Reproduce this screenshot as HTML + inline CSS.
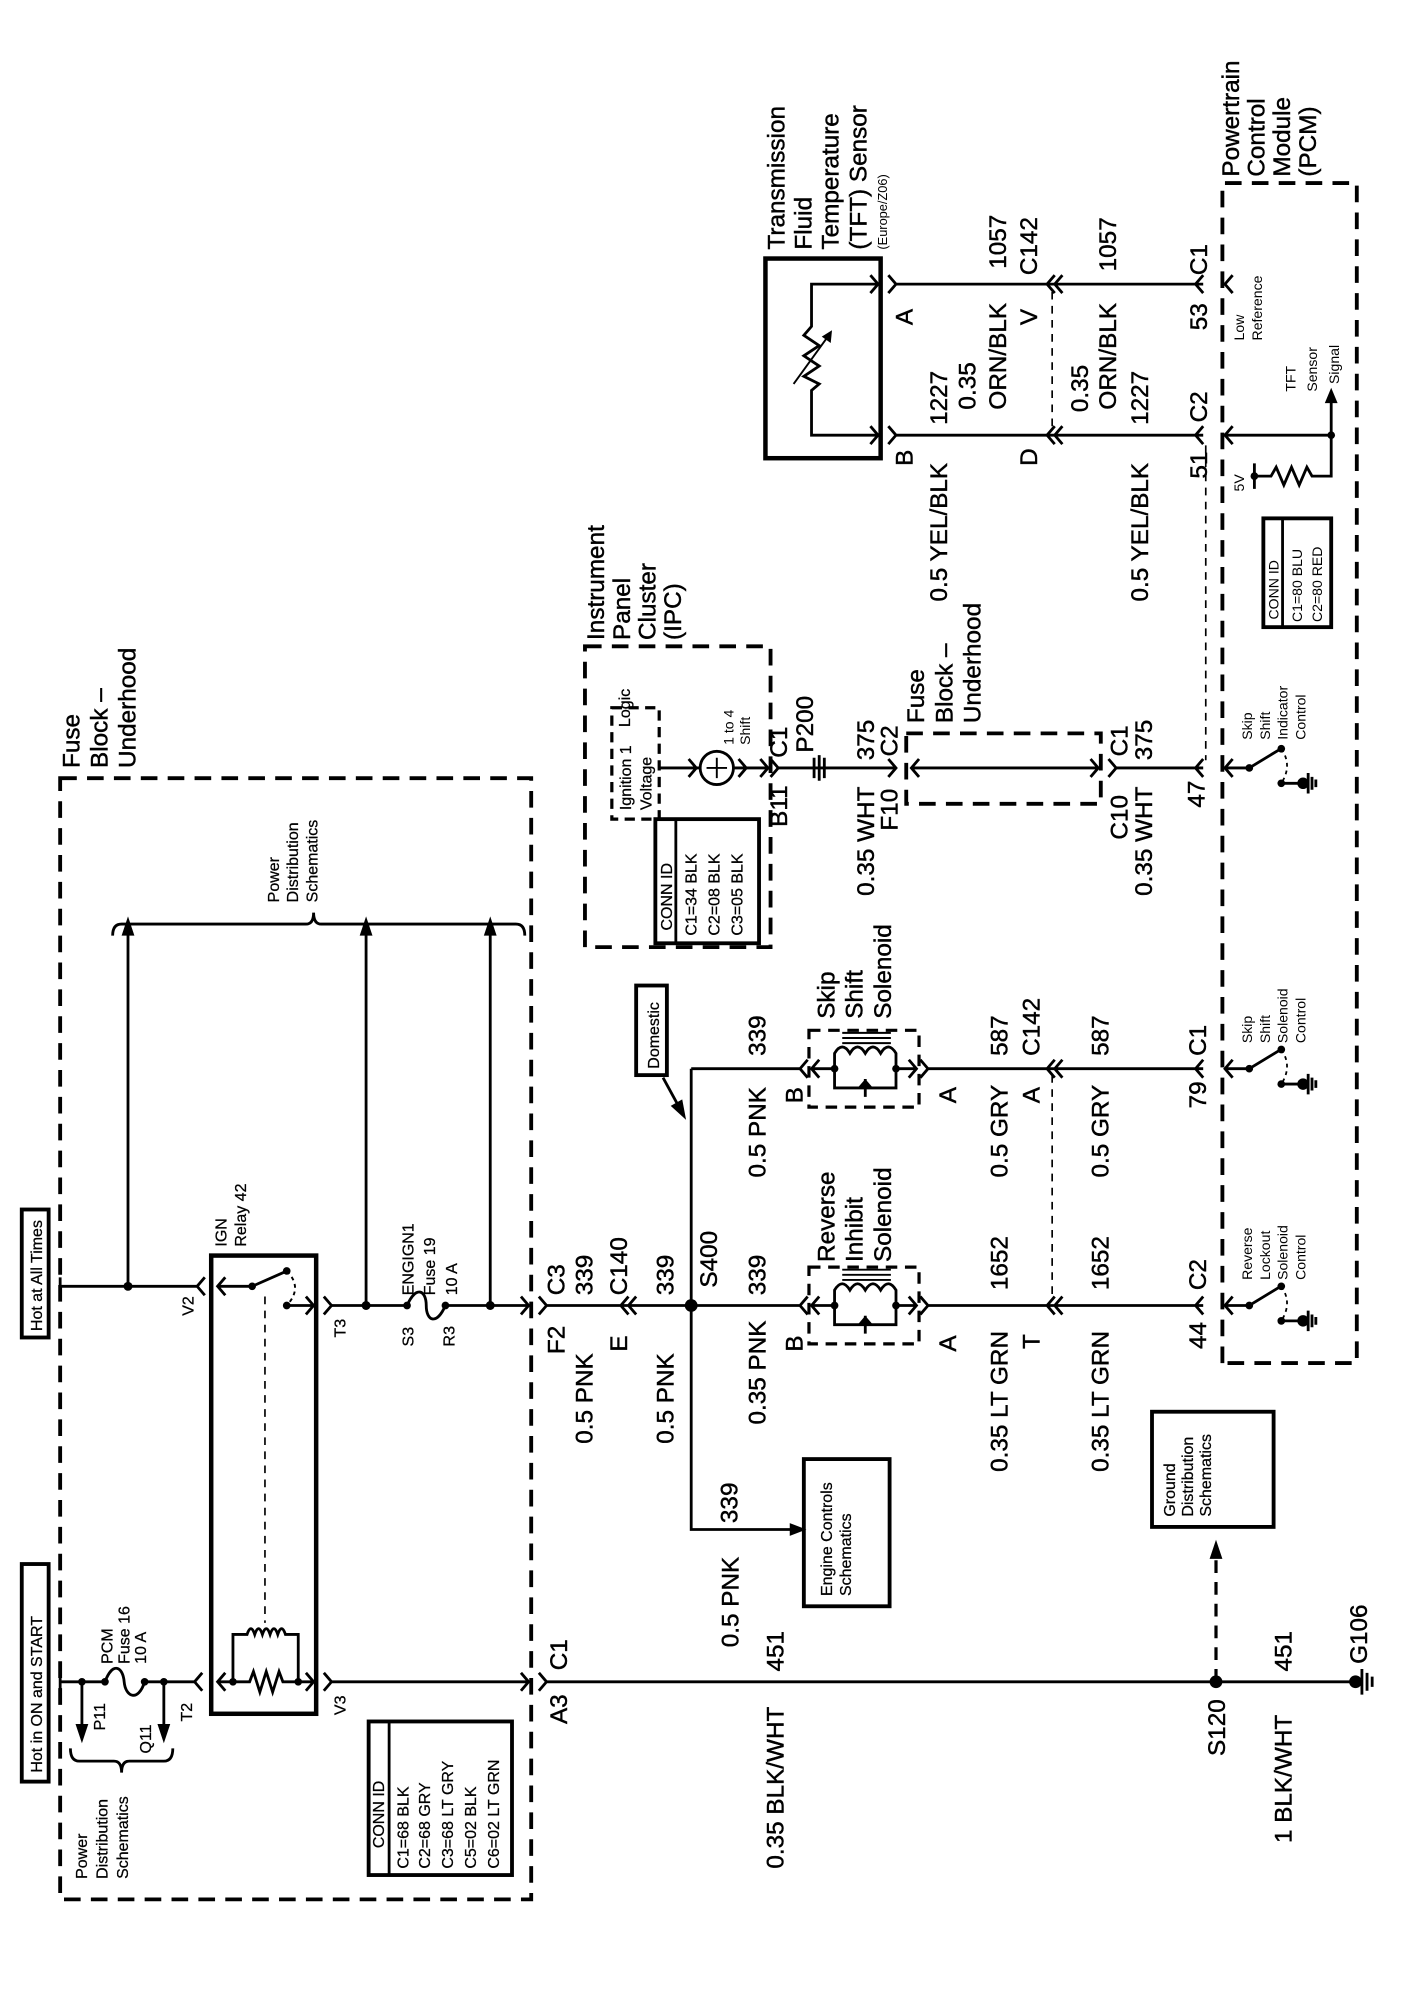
<!DOCTYPE html>
<html><head><meta charset="utf-8"><style>
html,body{margin:0;padding:0;background:#fff}
svg{display:block}
text{font-family:"Liberation Sans",Arial,sans-serif;fill:#000}
.L{font-size:19px;stroke:#000;stroke-width:0.35}.M{font-size:12.5px;stroke:#000;stroke-width:0.2}.S{font-size:11px}.X{font-size:10px}
.w{stroke:#000;stroke-width:2.2;fill:none}
.t{stroke:#000;stroke-width:3.5;fill:none}
.d{stroke:#000;stroke-width:3;fill:none;stroke-dasharray:13 8}
.dt{stroke:#000;stroke-width:1.3;fill:none;stroke-dasharray:6 5}
.k{fill:#000}
</style></head><body>
<svg width="1408" height="2012" viewBox="0 0 1100 1572" preserveAspectRatio="none">
<rect width="1100" height="1572" fill="#fff"/>

<!-- LEFT FUSE BLOCK -->
<rect class="d" x="47" y="608" width="368" height="876"/>
<text class="L" transform="translate(62,600) rotate(-90)">Fuse</text>
<text class="L" transform="translate(84,600) rotate(-90)">Block –</text>
<text class="L" transform="translate(106,600) rotate(-90)">Underhood</text>

<rect class="t" x="17" y="1222" width="21" height="170" style="stroke-width:3"/>
<text class="M" transform="translate(33,1385) rotate(-90)">Hot in ON and START</text>
<rect class="t" x="17" y="945" width="21" height="100" style="stroke-width:3"/>
<text class="M" transform="translate(33,1040) rotate(-90)">Hot at All Times</text>

<path class="w" d="M47,1302 V1326 M47,1314 H82 M113,1314 H152 M82,1314 C88,1298 96,1302 97,1314 S108,1330 113,1314"/>
<circle class="k" cx="64" cy="1314" r="3"/><circle class="k" cx="82" cy="1314" r="3"/>
<circle class="k" cx="113" cy="1314" r="3"/><circle class="k" cx="128" cy="1314" r="3"/>
<path class="w" d="M64,1314 V1350 M128,1314 V1350"/>
<polygon class="k" points="59,1347 69,1347 64,1362"/><polygon class="k" points="123,1347 133,1347 128,1362"/>
<path class="w" d="M158,1307 L152,1314 L158,1321"/>
<text class="M" transform="translate(82,1352) rotate(-90)">P11</text>
<text class="M" transform="translate(118,1370) rotate(-90)">Q11</text>
<text class="M" transform="translate(150,1345) rotate(-90)">T2</text>
<text class="M" transform="translate(88,1300) rotate(-90)">PCM</text>
<text class="M" transform="translate(101,1300) rotate(-90)">Fuse 16</text>
<text class="M" transform="translate(114,1300) rotate(-90)">10 A</text>
<path class="w" d="M55,1366 Q55,1376 62,1376 L89,1376 Q95,1376 95,1385 Q95,1376 101,1376 L128,1376 Q135,1376 135,1366"/>
<text class="M" transform="translate(68,1468) rotate(-90)">Power</text>
<text class="M" transform="translate(84,1468) rotate(-90)">Distribution</text>
<text class="M" transform="translate(100,1468) rotate(-90)">Schematics</text>

<rect class="t" x="165" y="981" width="82" height="358"/>
<text class="M" transform="translate(177,974) rotate(-90)">IGN</text>
<text class="M" transform="translate(192,974) rotate(-90)">Relay 42</text>
<path class="w" d="M47,998 V1012 M47,1005 H154 M160,998 L154,1005 L160,1012"/>
<circle class="k" cx="100" cy="1005" r="3.5"/>
<path class="w" d="M100,1005 V728"/><polygon class="k" points="95,731 105,731 100,716"/>
<path class="w" d="M176,998 L170,1005 L176,1012 M170,1005 H197 L222,994"/>
<circle class="k" cx="197" cy="1005" r="3"/><circle class="k" cx="224" cy="993" r="3"/>
<path d="M224,993 Q237,1006 224,1020" stroke="#000" stroke-width="1.5" fill="none" stroke-dasharray="3 3"/>
<circle class="k" cx="224" cy="1020" r="3"/>
<path class="w" d="M224,1020 H245 M239,1013 L245,1020 L239,1027 M253,1013 L259,1020 L253,1027"/>
<path class="dt" d="M207,1013 V1268"/>
<text class="M" transform="translate(151,1028) rotate(-90)">V2</text>
<text class="M" transform="translate(270,1045) rotate(-90)">T3</text>
<text class="M" transform="translate(270,1340) rotate(-90)">V3</text>
<path class="w" d="M259,1020 H318 M348,1020 H413 M318,1020 C325,1004 333,1008 333,1020 S341,1036 348,1020 M407,1013 L413,1020 L407,1027"/>
<circle class="k" cx="286" cy="1020" r="3.5"/><circle class="k" cx="318" cy="1020" r="3"/>
<circle class="k" cx="348" cy="1020" r="3"/><circle class="k" cx="383" cy="1020" r="3.5"/>
<path class="w" d="M286,1020 V728 M383,1020 V728"/>
<polygon class="k" points="281,731 291,731 286,716"/><polygon class="k" points="378,731 388,731 383,716"/>
<text class="M" transform="translate(323,1012) rotate(-90)">ENGIGN1</text>
<text class="M" transform="translate(340,1012) rotate(-90)">Fuse 19</text>
<text class="M" transform="translate(357,1012) rotate(-90)">10 A</text>
<text class="M" transform="translate(323,1052) rotate(-90)">S3</text>
<text class="M" transform="translate(355,1052) rotate(-90)">R3</text>
<path class="w" d="M88,731 Q88,722 95,722 L239,722 Q245,722 245,713 Q245,722 251,722 L403,722 Q410,722 410,731"/>
<text class="M" transform="translate(218,705) rotate(-90)">Power</text>
<text class="M" transform="translate(233,705) rotate(-90)">Distribution</text>
<text class="M" transform="translate(248,705) rotate(-90)">Schematics</text>
<path class="w" d="M170,1314 H195 L198,1306 L203,1322 L208,1306 L213,1322 L218,1306 L221,1314 H245 M176,1307 L170,1314 L176,1321 M239,1307 L245,1314 L239,1321"/>
<path class="w" d="M182,1314 V1277 H193 Q196,1268 199,1277 Q202,1268 205,1277 Q208,1268 211,1277 Q214,1268 217,1277 Q220,1268 223,1277 H233 V1314"/>
<circle class="k" cx="182" cy="1314" r="3"/><circle class="k" cx="233" cy="1314" r="3"/>
<path class="w" d="M253,1307 L259,1314 L253,1321 M259,1314 H413 M407,1307 L413,1314 L407,1321"/>
<rect class="t" x="288" y="1345" width="112" height="120" style="stroke-width:3"/>
<path class="w" d="M304,1345 V1465"/>
<text class="M" transform="translate(300,1444) rotate(-90)">CONN ID</text>
<text class="M" transform="translate(319,1460) rotate(-90)">C1=68 BLK</text>
<text class="M" transform="translate(336,1460) rotate(-90)">C2=68 GRY</text>
<text class="M" transform="translate(354,1460) rotate(-90)">C3=68 LT GRY</text>
<text class="M" transform="translate(372,1460) rotate(-90)">C5=02 BLK</text>
<text class="M" transform="translate(390,1460) rotate(-90)">C6=02 LT GRN</text>

<path class="w" d="M421,1307 L427,1314 L421,1321 M427,1314 H1059"/>
<text class="L" transform="translate(443,1347) rotate(-90)">A3</text>
<text class="L" transform="translate(443,1305) rotate(-90)">C1</text>
<text class="L" transform="translate(612,1460) rotate(-90)">0.35 BLK/WHT</text>
<text class="L" transform="translate(612,1306) rotate(-90)">451</text>
<circle class="k" cx="950" cy="1314" r="5"/>
<path d="M950,1314 V1218" stroke="#000" stroke-width="2.5" stroke-dasharray="10 7" fill="none"/>
<polygon class="k" points="945,1218 955,1218 950,1203"/>
<text class="L" transform="translate(957,1372) rotate(-90)">S120</text>
<text class="L" transform="translate(1009,1306) rotate(-90)">451</text>
<text class="L" transform="translate(1009,1440) rotate(-90)">1 BLK/WHT</text>
<circle class="k" cx="1059" cy="1314" r="5"/>
<path class="w" d="M1064,1304 V1324 M1068,1307 V1321 M1072,1310 V1318"/>
<text class="L" transform="translate(1068,1300) rotate(-90)">G106</text>
<rect class="t" x="900" y="1103" width="95" height="90" style="stroke-width:3"/>
<text class="M" transform="translate(918,1185) rotate(-90)">Ground</text>
<text class="M" transform="translate(932,1185) rotate(-90)">Distribution</text>
<text class="M" transform="translate(946,1185) rotate(-90)">Schematics</text>

<path class="w" d="M421,1013 L427,1020 L421,1027 M427,1020 H625 M491,1013 L485,1020 L491,1027 M497,1013 L491,1020 L497,1027 M631,1013 L625,1020 L631,1027"/>
<circle class="k" cx="540" cy="1020" r="5"/>
<path class="w" d="M540,835 V1195 H622 M540,835 H625 M631,828 L625,835 L631,842"/>
<polygon class="k" points="617,1190 617,1200 630,1195"/>
<text class="L" transform="translate(441,1058) rotate(-90)">F2</text>
<text class="L" transform="translate(441,1012) rotate(-90)">C3</text>
<text class="L" transform="translate(463,1128) rotate(-90)">0.5 PNK</text>
<text class="L" transform="translate(463,1012) rotate(-90)">339</text>
<text class="L" transform="translate(490,1056) rotate(-90)">E</text>
<text class="L" transform="translate(490,1012) rotate(-90)">C140</text>
<text class="L" transform="translate(526,1128) rotate(-90)">0.5 PNK</text>
<text class="L" transform="translate(526,1012) rotate(-90)">339</text>
<text class="L" transform="translate(560,1006) rotate(-90)">S400</text>
<text class="L" transform="translate(598,1113) rotate(-90)">0.35 PNK</text>
<text class="L" transform="translate(598,1012) rotate(-90)">339</text>
<text class="L" transform="translate(627,1056) rotate(-90)">B</text>
<text class="L" transform="translate(652,986) rotate(-90)">Reverse</text>
<text class="L" transform="translate(674,986) rotate(-90)">Inhibit</text>
<text class="L" transform="translate(696,986) rotate(-90)">Solenoid</text>
<text class="L" transform="translate(747,1056) rotate(-90)">A</text>
<text class="L" transform="translate(787,1150) rotate(-90)">0.35 LT GRN</text>
<text class="L" transform="translate(787,1008) rotate(-90)">1652</text>
<text class="L" transform="translate(812,1054) rotate(-90)">T</text>
<text class="L" transform="translate(866,1150) rotate(-90)">0.35 LT GRN</text>
<text class="L" transform="translate(866,1008) rotate(-90)">1652</text>
<text class="L" transform="translate(942,1008) rotate(-90)">C2</text>
<text class="L" transform="translate(942,1054) rotate(-90)">44</text>
<text class="L" transform="translate(576,1190) rotate(-90)">339</text>
<text class="L" transform="translate(577,1287) rotate(-90)">0.5 PNK</text>
<rect class="t" x="628" y="1140" width="67" height="115" style="stroke-width:3"/>
<text class="M" transform="translate(650,1247) rotate(-90)">Engine Controls</text>
<text class="M" transform="translate(665,1247) rotate(-90)">Schematics</text>
<rect class="t" x="497" y="770" width="24" height="70" style="stroke-width:3"/>
<text class="M" transform="translate(515,835) rotate(-90)">Domestic</text>
<path class="w" d="M518,842 L530,864"/><polygon class="k" points="524,864 533,859 536,875"/>

<g>
<rect class="d" x="632" y="990" width="86" height="60" style="stroke-width:2.5;stroke-dasharray:9 6"/>
<path class="w" d="M640,1013 L634,1020 L640,1027 M634,1020 H652 M700,1020 H716 M710,1013 L716,1020 L710,1027"/>
<path class="w" d="M652,1020 V1008 Q658,998 664,1008 Q670,998 676,1008 Q682,998 688,1008 Q694,998 700,1008 V1020"/>
<path class="w" d="M658,1000 H696 M658,996 H696 M658,992 H696" style="stroke-width:1.5"/>
<path class="w" d="M652,1020 V1035 H700 V1020 M676,1028 V1042"/>
<polygon class="k" points="670,1035 682,1035 676,1028"/>
<circle class="k" cx="652" cy="1020" r="3"/><circle class="k" cx="700" cy="1020" r="3"/>
</g>
<g transform="translate(0,-185)">
<rect class="d" x="632" y="990" width="86" height="60" style="stroke-width:2.5;stroke-dasharray:9 6"/>
<path class="w" d="M640,1013 L634,1020 L640,1027 M634,1020 H652 M700,1020 H716 M710,1013 L716,1020 L710,1027"/>
<path class="w" d="M652,1020 V1008 Q658,998 664,1008 Q670,998 676,1008 Q682,998 688,1008 Q694,998 700,1008 V1020"/>
<path class="w" d="M658,1000 H696 M658,996 H696 M658,992 H696" style="stroke-width:1.5"/>
<path class="w" d="M652,1020 V1035 H700 V1020 M676,1028 V1042"/>
<polygon class="k" points="670,1035 682,1035 676,1028"/>
<circle class="k" cx="652" cy="1020" r="3"/><circle class="k" cx="700" cy="1020" r="3"/>
</g>
<path class="w" d="M719,1013 L725,1020 L719,1027 M725,1020 H940 M824,1013 L818,1020 L824,1027 M830,1013 L824,1020 L830,1027 M940,1013 L934,1020 L940,1027"/>
<path class="w" d="M719,828 L725,835 L719,842 M725,835 H940 M824,828 L818,835 L824,842 M830,828 L824,835 L830,842 M940,828 L934,835 L940,842"/>
<path class="dt" d="M822,840 V1016"/>

<text class="L" transform="translate(598,825) rotate(-90)">339</text>
<text class="L" transform="translate(627,862) rotate(-90)">B</text>
<text class="L" transform="translate(598,920) rotate(-90)">0.5 PNK</text>
<text class="L" transform="translate(652,796) rotate(-90)">Skip</text>
<text class="L" transform="translate(674,796) rotate(-90)">Shift</text>
<text class="L" transform="translate(696,796) rotate(-90)">Solenoid</text>
<text class="L" transform="translate(747,862) rotate(-90)">A</text>
<text class="L" transform="translate(787,825) rotate(-90)">587</text>
<text class="L" transform="translate(787,920) rotate(-90)">0.5 GRY</text>
<text class="L" transform="translate(812,825) rotate(-90)">C142</text>
<text class="L" transform="translate(812,862) rotate(-90)">A</text>
<text class="L" transform="translate(866,825) rotate(-90)">587</text>
<text class="L" transform="translate(866,920) rotate(-90)">0.5 GRY</text>
<text class="L" transform="translate(942,825) rotate(-90)">C1</text>
<text class="L" transform="translate(942,866) rotate(-90)">79</text>

<rect class="d" x="457" y="505" width="145" height="235"/>
<text class="L" transform="translate(472,500) rotate(-90)">Instrument</text>
<text class="L" transform="translate(492,500) rotate(-90)">Panel</text>
<text class="L" transform="translate(512,500) rotate(-90)">Cluster</text>
<text class="L" transform="translate(532,500) rotate(-90)">(IPC)</text>
<rect x="478" y="553" width="37" height="87" stroke="#000" stroke-width="2.5" fill="none" stroke-dasharray="8 5"/>
<text class="M" transform="translate(493,633) rotate(-90)">Ignition 1</text>
<text class="M" transform="translate(509,633) rotate(-90)">Voltage</text>
<text class="M" transform="translate(492,568) rotate(-90)">Logic</text>
<path class="w" d="M515,600 H547 M573,600 H600 M538,593 L544,600 L538,607 M577,593 L583,600 L577,607 M594,593 L600,600 L594,607"/>
<circle class="w" cx="560" cy="600" r="13"/>
<path class="w" d="M552,600 H568 M560,592 V608" style="stroke-width:1.5"/>
<text class="S" transform="translate(573,582) rotate(-90)">1 to 4</text>
<text class="S" transform="translate(586,582) rotate(-90)">Shift</text>
<rect class="t" x="512" y="640" width="81" height="97" style="stroke-width:3"/>
<path class="w" d="M528,640 V737"/>
<text class="M" transform="translate(525,727) rotate(-90)">CONN ID</text>
<text class="M" transform="translate(544,731) rotate(-90)">C1=34 BLK</text>
<text class="M" transform="translate(562,731) rotate(-90)">C2=08 BLK</text>
<text class="M" transform="translate(580,731) rotate(-90)">C3=05 BLK</text>
<path class="w" d="M602,593 L608,600 L602,607 M608,600 H700 M636,592 V608 M640,590 V610 M644,592 V608"/>
<path class="w" d="M694,593 L700,600 L694,607 M718,593 L712,600 L718,607 M712,600 H858 M852,593 L858,600 L852,607 M866,593 L872,600 L866,607 M872,600 H940 M940,593 L934,600 L940,607"/>
<text class="L" transform="translate(615,592) rotate(-90)">C1</text>
<text class="L" transform="translate(615,646) rotate(-90)">B11</text>
<text class="L" transform="translate(635,588) rotate(-90)">P200</text>
<text class="L" transform="translate(683,594) rotate(-90)">375</text>
<text class="L" transform="translate(683,700) rotate(-90)">0.35 WHT</text>
<text class="L" transform="translate(701,591) rotate(-90)">C2</text>
<text class="L" transform="translate(701,649) rotate(-90)">F10</text>
<rect class="d" x="708" y="573" width="152" height="55"/>
<text class="L" transform="translate(722,565) rotate(-90)">Fuse</text>
<text class="L" transform="translate(744,565) rotate(-90)">Block –</text>
<text class="L" transform="translate(766,565) rotate(-90)">Underhood</text>
<text class="L" transform="translate(881,591) rotate(-90)">C1</text>
<text class="L" transform="translate(900,594) rotate(-90)">375</text>
<text class="L" transform="translate(881,656) rotate(-90)">C10</text>
<text class="L" transform="translate(900,700) rotate(-90)">0.35 WHT</text>
<text class="L" transform="translate(941,631) rotate(-90)">47</text>

<rect class="t" x="598" y="202" width="90" height="156"/>
<text class="L" transform="translate(613,195) rotate(-90)">Transmission</text>
<text class="L" transform="translate(634,195) rotate(-90)">Fluid</text>
<text class="L" transform="translate(655,195) rotate(-90)">Temperature</text>
<text class="L" transform="translate(677,195) rotate(-90)">(TFT) Sensor</text>
<text class="X" transform="translate(693,195) rotate(-90)">(Europe/Z06)</text>
<path class="w" d="M686,222 H634 V255 L628,262 L640,270 L628,278 L640,286 L628,294 L640,300 L634,305 V340 H686 M680,215 L686,222 L680,229 M680,333 L686,340 L680,347"/>
<path class="w" d="M620,300 L646,264" style="stroke-width:1.5"/>
<polygon class="k" points="642,263 649,268 650,258"/>
<path class="w" d="M694,215 L700,222 L694,229 M700,222 H940 M694,333 L700,340 L694,347 M700,340 H940"/>
<path class="w" d="M824,215 L818,222 L824,229 M830,215 L824,222 L830,229 M824,333 L818,340 L824,347 M830,333 L824,340 L830,347 M940,215 L934,222 L940,229 M940,333 L934,340 L940,347"/>
<path class="dt" d="M822,228 V335"/>
<path class="dt" d="M942,348 V594"/>
<text class="L" transform="translate(713,254) rotate(-90)">A</text>
<text class="L" transform="translate(713,364) rotate(-90)">B</text>
<text class="L" transform="translate(740,332) rotate(-90)">1227</text>
<text class="L" transform="translate(740,470) rotate(-90)">0.5 YEL/BLK</text>
<text class="L" transform="translate(762,320) rotate(-90)">0.35</text>
<text class="L" transform="translate(786,320) rotate(-90)">ORN/BLK</text>
<text class="L" transform="translate(786,210) rotate(-90)">1057</text>
<text class="L" transform="translate(810,215) rotate(-90)">C142</text>
<text class="L" transform="translate(810,254) rotate(-90)">V</text>
<text class="L" transform="translate(810,364) rotate(-90)">D</text>
<text class="L" transform="translate(850,322) rotate(-90)">0.35</text>
<text class="L" transform="translate(872,320) rotate(-90)">ORN/BLK</text>
<text class="L" transform="translate(872,212) rotate(-90)">1057</text>
<text class="L" transform="translate(897,332) rotate(-90)">1227</text>
<text class="L" transform="translate(897,470) rotate(-90)">0.5 YEL/BLK</text>
<text class="L" transform="translate(943,215) rotate(-90)">C1</text>
<text class="L" transform="translate(943,258) rotate(-90)">53</text>
<text class="L" transform="translate(943,330) rotate(-90)">C2</text>
<text class="L" transform="translate(943,374) rotate(-90)">51</text>

<path class="d" d="M955,1065 V143 H1060 V1065 H955"/>
<text class="L" transform="translate(968,138) rotate(-90)">Powertrain</text>
<text class="L" transform="translate(988,138) rotate(-90)">Control</text>
<text class="L" transform="translate(1008,138) rotate(-90)">Module</text>
<text class="L" transform="translate(1028,138) rotate(-90)">(PCM)</text>
<path class="w" d="M963,215 L957,222 L963,229 M963,333 L957,340 L963,347 M957,340 H1040 V372 H1025 L1021,365 L1015,379 L1009,365 L1003,379 L997,365 L993,372 H980 M980,362 V382 M1040,340 V312"/>
<polygon class="k" points="1035,315 1045,315 1040,303"/>
<circle class="k" cx="1040" cy="340" r="3"/><circle class="k" cx="980" cy="372" r="3"/>
<text class="S" transform="translate(972,266) rotate(-90)">Low</text>
<text class="S" transform="translate(986,266) rotate(-90)">Reference</text>
<text class="S" transform="translate(1012,306) rotate(-90)">TFT</text>
<text class="S" transform="translate(1029,306) rotate(-90)">Sensor</text>
<text class="S" transform="translate(1046,300) rotate(-90)">Signal</text>
<text class="S" transform="translate(972,384) rotate(-90)">5V</text>
<rect class="t" x="987" y="405" width="53" height="85" style="stroke-width:3"/>
<path class="w" d="M1002,405 V490"/>
<text class="S" transform="translate(999,484) rotate(-90)">CONN ID</text>
<text class="S" transform="translate(1017,486) rotate(-90)">C1=80 BLU</text>
<text class="S" transform="translate(1033,486) rotate(-90)">C2=80 RED</text>

<g>
<path class="w" d="M963,593 L957,600 L963,607 M957,600 H976 L999,586 M1001,612 H1018 M1022,604 V620 M1025,607 V617 M1028,609 V615"/>
<circle class="k" cx="976" cy="600" r="3"/><circle class="k" cx="1001" cy="585" r="3"/><circle class="k" cx="1001" cy="612" r="3"/><circle class="k" cx="1018" cy="612" r="4.5"/>
<path d="M1001,585 Q1010,598 1001,612" stroke="#000" stroke-width="1.4" fill="none" stroke-dasharray="3 3"/>
</g>
<g transform="translate(0,235)">
<path class="w" d="M963,593 L957,600 L963,607 M957,600 H976 L999,586 M1001,612 H1018 M1022,604 V620 M1025,607 V617 M1028,609 V615"/>
<circle class="k" cx="976" cy="600" r="3"/><circle class="k" cx="1001" cy="585" r="3"/><circle class="k" cx="1001" cy="612" r="3"/><circle class="k" cx="1018" cy="612" r="4.5"/>
<path d="M1001,585 Q1010,598 1001,612" stroke="#000" stroke-width="1.4" fill="none" stroke-dasharray="3 3"/>
</g>
<g transform="translate(0,420)">
<path class="w" d="M963,593 L957,600 L963,607 M957,600 H976 L999,586 M1001,612 H1018 M1022,604 V620 M1025,607 V617 M1028,609 V615"/>
<circle class="k" cx="976" cy="600" r="3"/><circle class="k" cx="1001" cy="585" r="3"/><circle class="k" cx="1001" cy="612" r="3"/><circle class="k" cx="1018" cy="612" r="4.5"/>
<path d="M1001,585 Q1010,598 1001,612" stroke="#000" stroke-width="1.4" fill="none" stroke-dasharray="3 3"/>
</g>
<text class="S" transform="translate(978,578) rotate(-90)">Skip</text>
<text class="S" transform="translate(992,578) rotate(-90)">Shift</text>
<text class="S" transform="translate(1006,578) rotate(-90)">Indicator</text>
<text class="S" transform="translate(1020,578) rotate(-90)">Control</text>
<text class="S" transform="translate(978,815) rotate(-90)">Skip</text>
<text class="S" transform="translate(992,815) rotate(-90)">Shift</text>
<text class="S" transform="translate(1006,815) rotate(-90)">Solenoid</text>
<text class="S" transform="translate(1020,815) rotate(-90)">Control</text>
<text class="S" transform="translate(978,1000) rotate(-90)">Reverse</text>
<text class="S" transform="translate(992,1000) rotate(-90)">Lockout</text>
<text class="S" transform="translate(1006,1000) rotate(-90)">Solenoid</text>
<text class="S" transform="translate(1020,1000) rotate(-90)">Control</text>
</svg>
</body></html>
